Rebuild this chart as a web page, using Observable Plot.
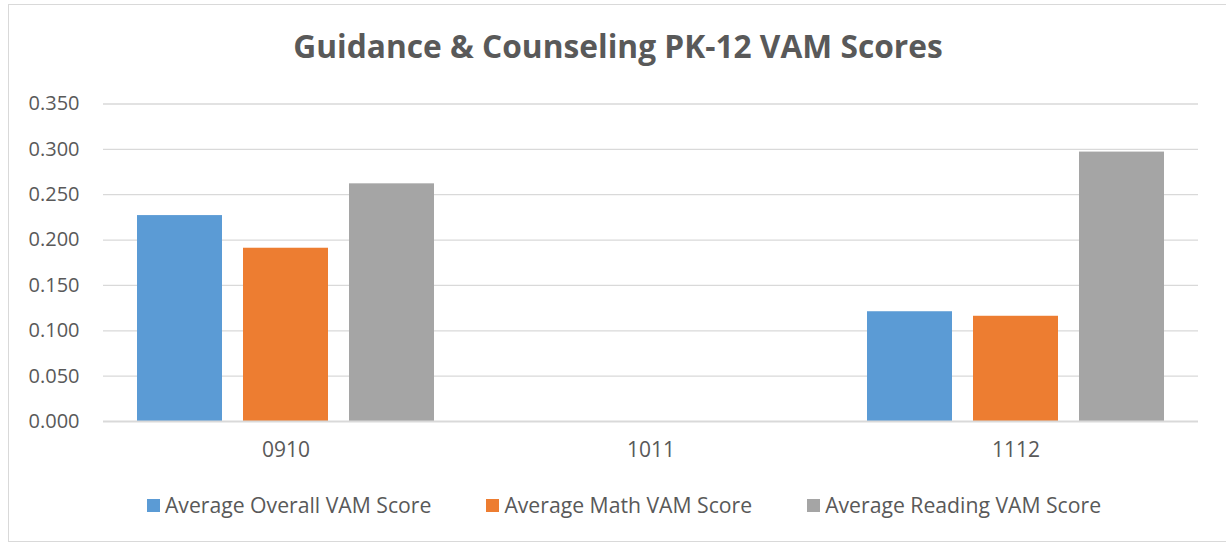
<!DOCTYPE html>
<html>
<head>
<meta charset="utf-8">
<script src="https://cdn.jsdelivr.net/npm/d3@7"></script>
<script src="https://cdn.jsdelivr.net/npm/@observablehq/plot@0.6"></script>
<style>
  html, body { margin: 0; padding: 0; background: #fff; overflow: hidden; width: 1226px; height: 544px; }
  #frame { position: absolute; left: 8px; top: 4px; width: 1220px; height: 538px; border: 1px solid #d9d9d9; box-sizing: border-box; }
  #title { position: absolute; left: 8px; width: 1220px; top: 25px; text-align: center; font-family: "Open Sans", sans-serif; font-weight: bold; font-size: 31.7px; color: #595959; line-height: 42px; }
  #chart { position: absolute; left: 0; top: 80px; }
  #legend { position: absolute; left: 14px; width: 1220px; top: 490px; display: flex; justify-content: center; gap: 55px; font-family: "Open Sans", sans-serif; font-size: 21.2px; color: #595959; line-height: 30px; }
  .item { display: flex; align-items: center; }
  .sw { width: 13px; height: 13px; margin-right: 5px; }
</style>
</head>
<body>
<div id="frame"></div>
<div id="title">Guidance &amp; Counseling PK-12 VAM Scores</div>
<div id="chart"></div>
<div id="legend"></div>
<script>
const years = ["0910", "1011", "1112"];
const series = ["Average Overall VAM Score", "Average Math VAM Score", "Average Reading VAM Score"];
const overall = [0.227, null, 0.121];
const math = [0.191, null, 0.116];
const reading = [0.262, null, 0.297];
const colors = ["#5B9BD5", "#ED7D31", "#A5A5A5"];
const yTicks = [0, 0.05, 0.1, 0.15, 0.2, 0.25, 0.3, 0.35];

const valuesBySeries = [overall, math, reading];
const data = [];
years.forEach((yr, i) => {
  series.forEach((s, j) => {
    data.push({year: yr, series: s, value: valuesBySeries[j][i]});
  });
});

const chart = Plot.plot({
  width: 1226,
  height: 390,
  marginLeft: 102,
  marginRight: 28,
  marginTop: 23.5,
  marginBottom: 49,
  style: {fontFamily: "'Open Sans', sans-serif", fontSize: "20px", color: "#595959", background: "transparent"},
  fx: {domain: years, padding: 0, label: null, tickSize: 0, tickPadding: 21},
  x: {domain: series, axis: null, paddingInner: 0.196, paddingOuter: 0.305},
  y: {domain: [0, 0.35], ticks: yTicks, tickFormat: d3.format(".3f"), tickSize: 0, tickPadding: 24, label: null},
  color: {domain: series, range: colors},
  marks: [
    Plot.ruleY(yTicks.filter(d => d > 0), {stroke: "#d9d9d9", strokeWidth: 1.3}),
    Plot.barY(data, {fx: "year", x: "series", y: "value", fill: "series"}),
    Plot.ruleY([0], {stroke: "#d9d9d9", strokeWidth: 1.8})
  ]
});
chart.querySelectorAll("[aria-label='fx-axis tick label'] text, g[aria-label='fx-axis tick label']").forEach(el => el.setAttribute("font-size", "21px"));
document.getElementById("chart").appendChild(chart);

const legend = document.getElementById("legend");
series.forEach((s, j) => {
  const item = document.createElement("div");
  item.className = "item";
  const sw = document.createElement("div");
  sw.className = "sw";
  sw.style.background = colors[j];
  const tx = document.createElement("span");
  tx.textContent = s;
  item.appendChild(sw);
  item.appendChild(tx);
  legend.appendChild(item);
});
</script>
</body>
</html>
